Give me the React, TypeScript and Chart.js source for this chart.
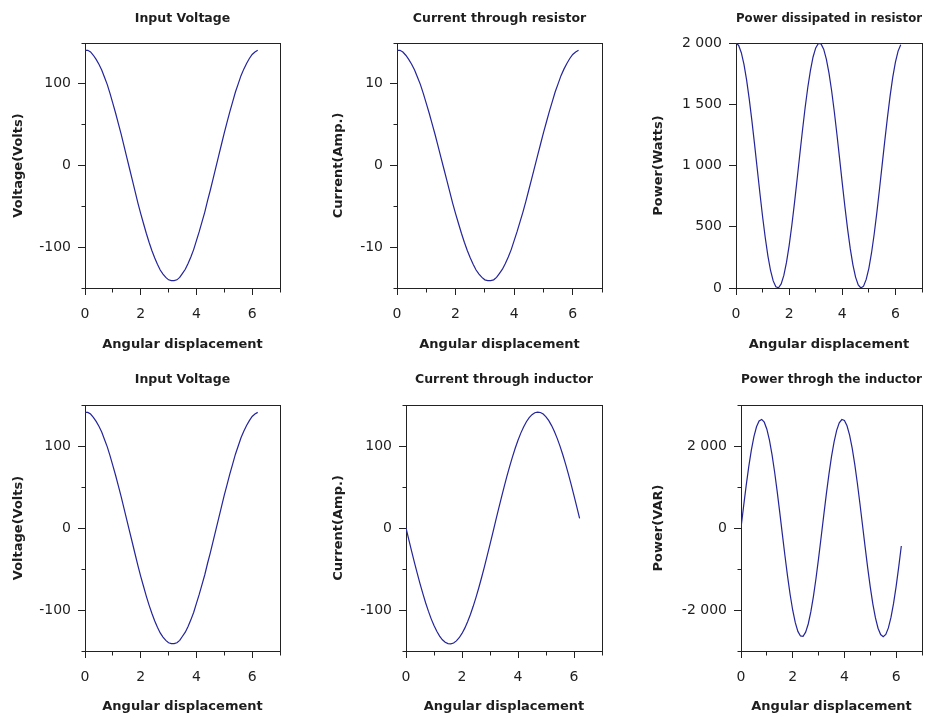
import React, { useEffect, useRef } from 'react';
import { Chart, registerables } from 'chart.js';

Chart.register(...registerables);

// ---- data (angle in rad) ----
const angles = [
  0, 0.1, 0.2, 0.3, 0.4, 0.5, 0.6, 0.7, 0.8, 0.9,
  1.0, 1.1, 1.2, 1.3, 1.4, 1.5, 1.6, 1.7, 1.8, 1.9,
  2.0, 2.1, 2.2, 2.3, 2.4, 2.5, 2.6, 2.7, 2.8, 2.9,
  3.0, 3.1, 3.2, 3.3, 3.4, 3.5, 3.6, 3.7, 3.8, 3.9,
  4.0, 4.1, 4.2, 4.3, 4.4, 4.5, 4.6, 4.7, 4.8, 4.9,
  5.0, 5.1, 5.2, 5.3, 5.4, 5.5, 5.6, 5.7, 5.8, 5.9,
  6.0, 6.1, 6.2,
];
const inputVoltage = [
  141, 141, 139, 135, 130, 124, 117, 108, 99, 88,
  76, 64, 51, 38, 24, 10, -4, -18, -32, -46,
  -59, -71, -83, -94, -104, -113, -121, -128, -133, -137,
  -140, -141, -141, -140, -137, -132, -127, -120, -112, -103,
  -92, -81, -69, -57, -43, -30, -16, -2, 12, 26,
  40, 53, 66, 78, 90, 100, 110, 118, 125, 131,
  136, 139, 141,
];
const resistorCurrent = [
  14.1, 14.1, 13.9, 13.5, 13.0, 12.4, 11.7, 10.8, 9.9, 8.8,
  7.6, 6.4, 5.1, 3.8, 2.4, 1.0, -0.4, -1.8, -3.2, -4.6,
  -5.9, -7.1, -8.3, -9.4, -10.4, -11.3, -12.1, -12.8, -13.3, -13.7,
  -14.0, -14.1, -14.1, -14.0, -13.7, -13.2, -12.7, -12.0, -11.2, -10.3,
  -9.2, -8.1, -6.9, -5.7, -4.4, -3.0, -1.6, -0.2, 1.2, 2.6,
  4.0, 5.3, 6.6, 7.8, 9.0, 10.0, 11.0, 11.8, 12.5, 13.1,
  13.6, 13.9, 14.1,
];
const resistorPower = [
  2000, 1980, 1921, 1825, 1697, 1540, 1362, 1170, 971, 773,
  584, 412, 263, 143, 58, 10, 2, 33, 103, 209,
  346, 510, 693, 888, 1088, 1284, 1469, 1635, 1775, 1886,
  1960, 1996, 1993, 1950, 1869, 1754, 1608, 1439, 1251, 1054,
  854, 661, 481, 321, 189, 89, 25, 0, 15, 70,
  161, 286, 439, 615, 806, 1005, 1203, 1393, 1568, 1721,
  1844, 1934, 1986,
];
const inductorCurrent = [
  0, -14.1, -28.1, -41.8, -55.1, -67.8, -79.8, -91.1, -101.4, -110.8,
  -119.0, -126.0, -131.8, -136.3, -139.3, -141.0, -141.3, -140.2, -137.7, -133.8,
  -128.6, -122.1, -114.3, -105.4, -95.5, -84.6, -72.9, -60.4, -47.4, -33.8,
  -20.0, -5.9, 8.3, 22.3, 36.1, 49.6, 62.6, 74.9, 86.5, 97.3,
  107.0, 115.7, 123.2, 129.6, 134.6, 138.2, 140.5, 141.4, 140.9, 138.9,
  135.6, 130.9, 124.9, 117.7, 109.3, 99.8, 89.3, 77.9, 65.7, 52.9,
  39.5, 25.8, 11.8,
];
const inductorPower = [
  0, 527, 1032, 1496, 1901, 2230, 2470, 2611, 2649, 2581,
  2410, 2143, 1790, 1366, 888, 374, -155, -677, -1173, -1622,
  -2006, -2310, -2522, -2633, -2640, -2541, -2341, -2048, -1673, -1231,
  -740, -220, 309, 825, 1309, 1741, 2103, 2382, 2565, 2646,
  2622, 2493, 2265, 1946, 1550, 1092, 591, 66, -462, -971,
  -1442, -1855, -2194, -2445, -2599, -2650, -2595, -2436, -2180, -1839,
  -1422, -949, -439,
];

const xTickLabels = [0, 2, 4, 6];
const xAxisTitle = 'Angular displacement';

const LINE = '#24249a';
const AXIS = '#222222';
const TEXT = '#1e1e1e';
const FONT = "'DejaVu Sans', sans-serif";

const fmtThousands = (v: number) => {
  const s = String(Math.abs(v)).replace(/\B(?=(\d{3})+(?!\d))/g, ' ');
  return (v < 0 ? '-' : '') + s;
};

type Panel = {
  title: string;
  yTitle: string;
  values: number[];
  yMin: number;
  yMax: number;
  yStep: number;
  yMajor: number;
  fmt: (v: number) => string;
  left: number;
  top: number;
  width: number;
  height: number;
  areaLeft: number;
  rightW: number;
  topH: number;
  bottomH: number;
  titlePad: number;
  xTitlePad: number;
};

const ROW1 = { top: 0, height: 360, topH: 43, bottomH: 72, titlePad: 11.4, xTitlePad: 8 };
const ROW2 = { top: 360, height: 359, topH: 45, bottomH: 68, titlePad: 12, xTitlePad: 4.6 };

const panels: Panel[] = [
  { title: 'Input Voltage', yTitle: 'Voltage(Volts)', values: inputVoltage, yMin: -150, yMax: 150, yStep: 50, yMajor: 100, fmt: (v) => String(v),
    left: 0, width: 300, areaLeft: 85, rightW: 20, ...ROW1 },
  { title: 'Current through resistor', yTitle: 'Current(Amp.)', values: resistorCurrent, yMin: -15, yMax: 15, yStep: 5, yMajor: 10, fmt: (v) => String(v),
    left: 320, width: 300, areaLeft: 77, rightW: 18, ...ROW1 },
  { title: 'Power dissipated in resistor', yTitle: 'Power(Watts)', values: resistorPower, yMin: 0, yMax: 2000, yStep: 500, yMajor: 500, fmt: fmtThousands,
    left: 640, width: 286, areaLeft: 96, rightW: 4, ...ROW1 },
  { title: 'Input Voltage', yTitle: 'Voltage(Volts)', values: inputVoltage, yMin: -150, yMax: 150, yStep: 50, yMajor: 100, fmt: (v) => String(v),
    left: 0, width: 300, areaLeft: 85, rightW: 20, ...ROW2 },
  { title: 'Current through inductor', yTitle: 'Current(Amp.)', values: inductorCurrent, yMin: -150, yMax: 150, yStep: 50, yMajor: 100, fmt: (v) => String(v),
    left: 320, width: 300, areaLeft: 86, rightW: 18, ...ROW2 },
  { title: 'Power throgh the inductor', yTitle: 'Power(VAR)', values: inductorPower, yMin: -3000, yMax: 3000, yStep: 1000, yMajor: 2000, fmt: fmtThousands,
    left: 640, width: 286, areaLeft: 101, rightW: 4, ...ROW2 },
];

const isMajor = (v: number, m: number) => Math.abs(Math.round(v) % m) === 0;

function PanelChart({ p }: { p: Panel }) {
  const ref = useRef<HTMLCanvasElement>(null);
  useEffect(() => {
    if (!ref.current) return;
    const chart = new Chart(ref.current, {
      type: 'line',
      data: {
        datasets: [
          {
            data: angles.map((a, i) => ({ x: a, y: p.values[i] })),
            borderColor: LINE,
            borderWidth: 1.2,
            pointRadius: 0,
            fill: false,
            tension: 0,
            xAxisID: 'x',
            yAxisID: 'y',
          },
        ],
      },
      options: {
        animation: false,
        responsive: false,
        maintainAspectRatio: false,
        events: [],
        layout: { padding: 0 },
        plugins: { legend: { display: false }, title: { display: false }, tooltip: { enabled: false } },
        scales: {
          x: {
            type: 'linear',
            position: 'bottom',
            min: 0,
            max: 7,
            ticks: {
              stepSize: 1,
              autoSkip: false,
              maxRotation: 0,
              padding: 11,
              color: TEXT,
              font: { family: FONT, size: 14 },
              callback: (v: any) => (xTickLabels.includes(Number(v)) ? String(v) : ''),
            },
            grid: {
              display: true,
              drawOnChartArea: false,
              drawTicks: true,
              tickLength: 7,
              tickColor: AXIS,
              tickWidth: 1,
              tickBorderDash: (c: any) => (c.tick && Number(c.tick.value) % 2 === 0 ? [] : [3.5, 20]),
            },
            border: { display: true, color: AXIS, width: 1 },
            title: {
              display: true,
              text: xAxisTitle,
              color: TEXT,
              font: { family: FONT, size: 13, weight: 'bold' },
              padding: { top: 0, bottom: p.xTitlePad },
            },
            afterFit: (s: any) => {
              s.height = p.bottomH;
              s.paddingRight = 0;
              s.paddingLeft = 0;
            },
          },
          xTop: {
            type: 'linear',
            position: 'top',
            min: 0,
            max: 7,
            ticks: { display: false },
            grid: { display: false },
            border: { display: true, color: AXIS, width: 1 },
            title: {
              display: true,
              text: p.title,
              color: TEXT,
              font: { family: FONT, size: 12.5, weight: 'bold' },
              padding: { top: p.titlePad, bottom: 0 },
            },
            afterFit: (s: any) => {
              s.height = p.topH;
              s.paddingRight = 0;
              s.paddingLeft = 0;
            },
          },
          y: {
            type: 'linear',
            position: 'left',
            min: p.yMin,
            max: p.yMax,
            ticks: {
              stepSize: p.yStep,
              autoSkip: false,
              padding: 7,
              color: TEXT,
              font: { family: FONT, size: 14 },
              callback: (v: any) => (isMajor(Number(v), p.yMajor) ? p.fmt(Number(v)) : ''),
            },
            grid: {
              display: true,
              drawOnChartArea: false,
              drawTicks: true,
              tickLength: 7,
              tickColor: AXIS,
              tickWidth: 1,
              tickBorderDash: (c: any) => (c.tick && isMajor(Number(c.tick.value), p.yMajor) ? [] : [0, 3.5, 3.5, 20]),
            },
            border: { display: true, color: AXIS, width: 1 },
            title: {
              display: true,
              text: p.yTitle,
              color: TEXT,
              font: { family: FONT, size: 13, weight: 'bold' },
              padding: { top: 10.6, bottom: 0 },
            },
            afterFit: (s: any) => {
              s.width = p.areaLeft;
            },
          },
          yRight: {
            type: 'linear',
            position: 'right',
            ticks: { display: false },
            grid: { display: false },
            border: { display: true, color: AXIS, width: 1 },
            afterFit: (s: any) => {
              s.width = p.rightW;
            },
          },
        },
      } as any,
    });
    return () => chart.destroy();
  }, [p]);
  return (
    <canvas
      ref={ref}
      width={p.width}
      height={p.height}
      style={{ position: 'absolute', left: p.left, top: p.top, width: p.width, height: p.height }}
    />
  );
}

export default function App() {
  return (
    <div style={{ position: 'absolute', left: 0, top: 0, width: 926, height: 719, background: '#ffffff', overflow: 'hidden' }}>
      {panels.map((p, i) => (
        <PanelChart key={i} p={p} />
      ))}
    </div>
  );
}
